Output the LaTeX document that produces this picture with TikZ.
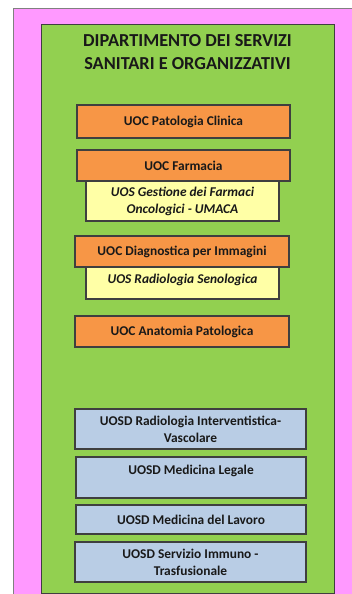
\documentclass[tikz,border=0pt]{standalone}
\usepackage{fontspec}
\setmainfont{Carlito}
\definecolor{pinkbg}{HTML}{FF99FF}
\definecolor{greenbg}{HTML}{92D050}
\definecolor{uocfill}{HTML}{F79646}
\definecolor{uosfill}{HTML}{FFFFA6}
\definecolor{uosdfill}{HTML}{B9CDE5}
\definecolor{edge}{HTML}{3F3F3F}
\tikzset{unit/.style = {draw = edge, line width = 1.2pt, align = center, inner sep = 0,
                        font = \fontsize{13.4}{17}\selectfont\bfseries, text = black!90}}
\tikzset{uoc/.style = {unit, fill = uocfill, minimum height = 31}}
\tikzset{uos/.style = {unit, fill = uosfill, minimum width = 193, font = \fontsize{13.4}{17}\selectfont\bfseries\itshape}}
\tikzset{uosd/.style = {unit, fill = uosdfill, minimum width = 230}}

\begin{document}
\begin{tikzpicture}[x = 1pt, y = -1pt]
    \useasboundingbox (0,0) rectangle (352,594);
    \fill [white] (0,0) rectangle (352,594);
    \fill [pinkbg] (13,8) rectangle (352,594);
    \draw [gray, line width = 0.8pt] (13,594) -- (13,8) -- (352,8);
    \draw [fill = greenbg, draw = edge, line width = 1pt] (41,25) rectangle (334,593);
    \node (title) [align = center, font = \fontsize{18.3}{22.5}\selectfont\bfseries, text = black!90]
        at (187.5,52) {DIPARTIMENTO DEI SERVIZI\\SANITARI E ORGANIZZATIVI};

    \node (patologia) [uoc, minimum width = 213, minimum height = 33] at (183.5,121.5) {UOC Patologia Clinica};
    \node (gestione) [uos, minimum height = 40] at (182.5,201) {UOS Gestione dei Farmaci\\Oncologici - UMACA};
    \node (farmacia) [uoc, minimum width = 213] at (183.5,165.5) {UOC Farmacia};
    \node (senologica) [uos, minimum height = 32, text depth = 9pt] at (182.5,283) {UOS Radiologia Senologica};
    \node (diagnostica) [uoc, minimum width = 214] at (182,251.5) {UOC Diagnostica per Immagini};
    \node (anatomia) [uoc, minimum width = 214] at (182,331.5) {UOC Anatomia Patologica};

    \node (interventistica) [uosd, minimum width = 231, minimum height = 40] at (190.5,429) {UOSD Radiologia Interventistica-\\Vascolare};
    \node (legale) [uosd, minimum height = 41, text depth = 16pt] at (191,477.5) {UOSD Medicina Legale};
    \node (lavoro) [uosd, minimum height = 29] at (191,519.5) {UOSD Medicina del Lavoro};
    \node (immuno) [uosd, minimum width = 231, minimum height = 40] at (190.5,562) {UOSD Servizio Immuno -\\Trasfusionale};
\end{tikzpicture}
\end{document}
